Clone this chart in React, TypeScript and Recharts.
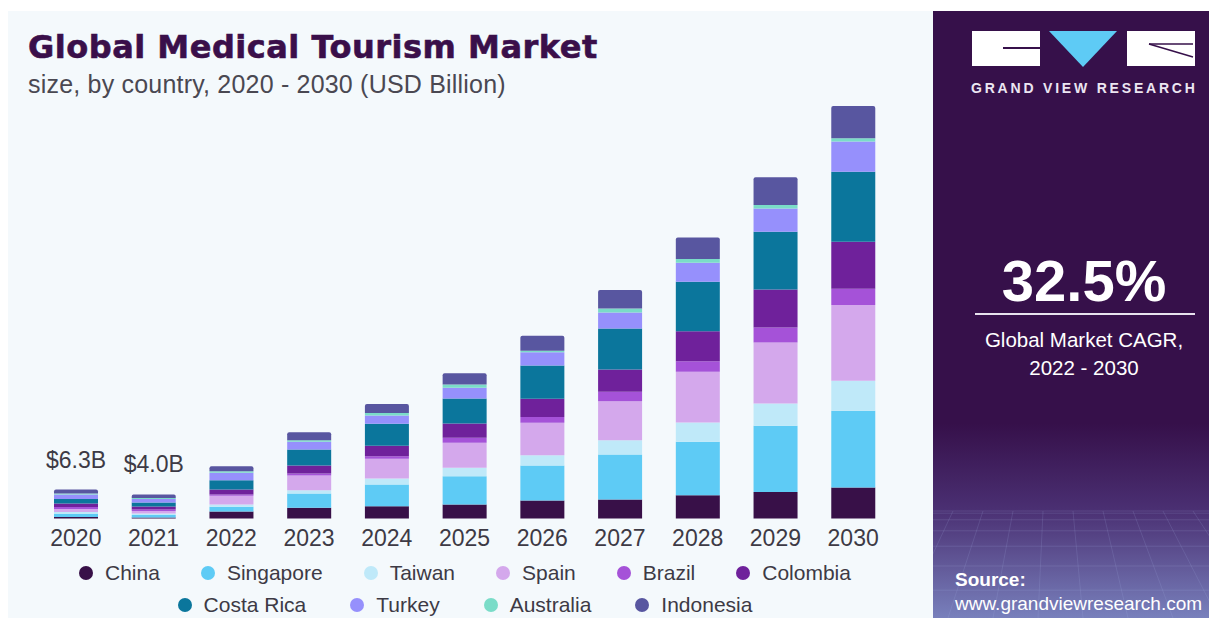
import React from "react";
import { BarChart, Bar, XAxis, YAxis, LabelList } from "recharts";

const years = ["2020", "2021", "2022", "2023", "2024", "2025", "2026", "2027", "2028", "2029", "2030"];
const totalLabels = ["$6.3B", "$4.0B", "", "", "", "", "", "", "", "", ""];

// USD billion
const china = [0.26, 0.17, 1.2, 1.84, 2.11, 2.4, 3.09, 3.26, 4.0, 4.56, 5.32];
const singapore = [0.51, 0.43, 0.81, 2.45, 3.72, 4.85, 6.0, 7.72, 9.14, 11.32, 13.14];
const taiwan = [0.34, 0.26, 0.39, 0.57, 1.03, 1.44, 1.77, 2.45, 3.33, 3.84, 5.15];
const spain = [0.51, 0.43, 1.49, 2.52, 3.38, 4.29, 5.56, 6.69, 8.68, 10.46, 12.98];
const brazil = [0.34, 0.26, 0.22, 0.34, 0.45, 0.86, 0.96, 1.6, 1.82, 2.57, 2.8];
const colombia = [0.6, 0.51, 0.86, 1.37, 1.78, 2.45, 3.16, 3.84, 5.15, 6.52, 8.06];
const costaRica = [0.77, 0.69, 1.6, 2.74, 3.77, 4.29, 5.71, 7.03, 8.47, 9.88, 12.01];
const turkey = [0.77, 0.6, 1.27, 1.32, 1.42, 1.84, 2.23, 2.74, 3.26, 4.01, 5.15];
const australia = [0.17, 0.17, 0.27, 0.27, 0.41, 0.57, 0.29, 0.69, 0.62, 0.57, 0.58];
const indonesia = [0.69, 0.6, 0.86, 1.37, 1.54, 1.89, 2.57, 3.14, 3.72, 4.75, 5.54];

const series = [
  { key: "China", values: china, color: "#381048" },
  { key: "Singapore", values: singapore, color: "#5ecbf5" },
  { key: "Taiwan", values: taiwan, color: "#bfe9f9" },
  { key: "Spain", values: spain, color: "#d4a8ec" },
  { key: "Brazil", values: brazil, color: "#a552d8" },
  { key: "Colombia", values: colombia, color: "#6f219b" },
  { key: "Costa Rica", values: costaRica, color: "#0b769c" },
  { key: "Turkey", values: turkey, color: "#9690fc" },
  { key: "Australia", values: australia, color: "#7adcc8" },
  { key: "Indonesia", values: indonesia, color: "#5856a0" },
];

const legendRows = [
  ["China", "Singapore", "Taiwan", "Spain", "Brazil", "Colombia"],
  ["Costa Rica", "Turkey", "Australia", "Indonesia"],
];

const data = years.map((year, i) => {
  const row: any = { year, label: totalLabels[i] };
  series.forEach((s) => (row[s.key] = s.values[i]));
  return row;
});

const textColor = "#3d3a45";

function YearTick(props: any) {
  return (
    <text x={props.x} y={props.y} dy={19} textAnchor="middle" fill={textColor}
      style={{ fontFamily: "Liberation Sans", fontSize: 23 }}>
      {props.payload.value}
    </text>
  );
}

function TotalLabel(props: any) {
  const { x, y, width, index } = props;
  const label = totalLabels[index];
  if (!label) return null;
  return (
    <text x={x + width / 2} y={y - 22} textAnchor="middle" fill={textColor}
      style={{ fontFamily: "Liberation Sans", fontSize: 23 }}>
      {label}
    </text>
  );
}

function Legend() {
  return (
    <div style={{ position: "absolute", left: 0, top: 557, width: 930, fontFamily: "Liberation Sans", fontSize: 21, color: textColor }}>
      {legendRows.map((row, r) => (
        <div key={r} style={{ display: "flex", justifyContent: "center", height: 32, alignItems: "center" }}>
          {row.map((name) => {
            const s = series.find((x) => x.key === name)!;
            return (
              <div key={name} style={{ display: "flex", alignItems: "center", margin: r === 0 ? "0 20.5px" : "0 22px" }}>
                <span style={{ width: 14, height: 14, borderRadius: 7, background: s.color, display: "inline-block", marginRight: 12 }} />
                <span>{name}</span>
              </div>
            );
          })}
        </div>
      ))}
    </div>
  );
}

function SidePanel() {
  return (
    <div style={{ position: "absolute", left: 933, top: 11, width: 276, height: 607, overflow: "hidden", fontFamily: "Liberation Sans" }}>
      <svg width={276} height={607} style={{ position: "absolute", left: 0, top: 0 }}>
        <defs>
          <linearGradient id="panelGrad" x1="0" y1="0" x2="0" y2="1">
            <stop offset="0" stopColor="#36104a" />
            <stop offset="0.68" stopColor="#36104a" />
            <stop offset="0.82" stopColor="#4a2f72" />
            <stop offset="1" stopColor="#7880bc" />
          </linearGradient>
        </defs>
        <rect x={0} y={0} width={276} height={607} fill="url(#panelGrad)" />
        {[0, 1, 2, 3, 4, 5, 6, 7].map((i) => (
          <line key={"h" + i} x1={0} x2={276} y1={500 + i * i * 2.2} y2={500 + i * i * 2.2} stroke="#a9b2e6" strokeOpacity={0.18} />
        ))}
        {[0, 1, 2, 3, 4, 5, 6, 7, 8, 9, 10, 11].map((i) => (
          <line key={"v" + i} x1={-40 + i * 30} x2={-120 + i * 45} y1={500} y2={607} stroke="#a9b2e6" strokeOpacity={0.16} />
        ))}
        {/* logo */}
        <rect x={39} y={20} width={68} height={35} fill="#ffffff" />
        <rect x={70} y={36} width={37} height={2} fill="#36104a" />
        <polygon points="116,20 184,20 150,56" fill="#5ecbf5" />
        <rect x={194} y={20} width={68} height={35} fill="#ffffff" />
        <line x1={216} y1={33} x2={260} y2={46} stroke="#36104a" strokeWidth={1.5} />
        <line x1={216} y1={33} x2={260} y2={33} stroke="#36104a" strokeWidth={1.5} />
      </svg>
      <div style={{ position: "absolute", left: 38, top: 69, width: 236, fontWeight: 700, fontSize: 14, letterSpacing: 2.8, color: "#ece6f2", whiteSpace: "nowrap" }}>
        GRAND VIEW RESEARCH
      </div>
      <div style={{ position: "absolute", left: 16, top: 236, width: 270, textAlign: "center", fontWeight: 700, fontSize: 58, color: "#ffffff" }}>
        32.5%
      </div>
      <div style={{ position: "absolute", left: 42, top: 302, width: 220, height: 2, background: "#e8e2ee" }} />
      <div style={{ position: "absolute", left: 0, top: 315, width: 302, textAlign: "center", fontSize: 20.5, lineHeight: "28px", color: "#ffffff" }}>
        Global Market CAGR,
        <br />
        2022 - 2030
      </div>
      <div style={{ position: "absolute", left: 22, top: 558, fontWeight: 700, fontSize: 19, color: "#ffffff" }}>Source:</div>
      <div style={{ position: "absolute", left: 22, top: 582, fontSize: 19, color: "#ffffff", whiteSpace: "nowrap" }}>www.grandviewresearch.com</div>
    </div>
  );
}

export default function App() {
  return (
    <div style={{ position: "absolute", left: 0, top: 0, width: 1209, height: 618, background: "#ffffff", overflow: "hidden" }}>
      <div style={{ position: "absolute", left: 8, top: 11, width: 925, height: 607, background: "#f4f9fc" }} />
      <div style={{ position: "absolute", left: 28, top: 28, fontFamily: "DejaVu Sans", fontWeight: 700, fontSize: 32, letterSpacing: 0.5, color: "#3a0f4a", whiteSpace: "nowrap", WebkitTextStroke: "0.6px #3a0f4a" }}>
        Global Medical Tourism Market
      </div>
      <div style={{ position: "absolute", left: 28, top: 70, fontFamily: "Liberation Sans", fontSize: 25, letterSpacing: 0.2, color: "#4a4852", whiteSpace: "nowrap" }}>
        size, by country, 2020 - 2030 (USD Billion)
      </div>
      <div style={{ position: "absolute", left: 0, top: 0 }}>
        <BarChart width={930} height={618} data={data} margin={{ top: 81, right: 38, left: 37, bottom: 69.5 }} barSize={44}>
          <XAxis dataKey="year" axisLine={false} tickLine={false} height={30} interval={0} tick={<YearTick />} />
          <YAxis hide domain={[0, 75]} />
          {series.map((s, i) => (
            <Bar key={s.key} dataKey={s.key} stackId="a" fill={s.color} isAnimationActive={false}
              radius={i === series.length - 1 ? [2, 2, 0, 0] : 0}>
              {i === series.length - 1 && <LabelList dataKey="label" content={<TotalLabel />} />}
            </Bar>
          ))}
        </BarChart>
      </div>
      <Legend />
      <SidePanel />
    </div>
  );
}
